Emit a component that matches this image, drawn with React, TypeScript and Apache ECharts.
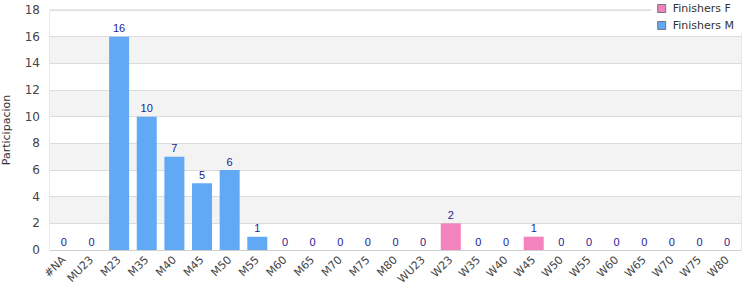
import React, { useEffect, useRef } from "react";
import * as echarts from "echarts";

const categories = ["#NA", "MU23", "M23", "M35", "M40", "M45", "M50", "M55", "M60", "M65", "M70", "M75", "M80", "WU23", "W23", "W35", "W40", "W45", "W50", "W55", "W60", "W65", "W70", "W75", "W80"];
const finishersM: (number | null)[] = [0, 0, 16, 10, 7, 5, 6, 1, 0, 0, 0, 0, 0, null, null, null, null, null, null, null, null, null, null, null, null];
const finishersF: (number | null)[] = [null, null, null, null, null, null, null, null, null, null, null, null, null, 0, 2, 0, 0, 1, 0, 0, 0, 0, 0, 0, 0];
const yTicks = { min: 0, max: 18, interval: 2 };

export default function App() {
  const ref = useRef<HTMLDivElement>(null);
  useEffect(() => {
    if (!ref.current) return;
    const chart = echarts.init(ref.current, null, { renderer: "svg" });
    const label = {
      show: true,
      position: "top" as const,
      distance: 3,
      color: "#1c1c94",
      fontSize: 11,
      fontFamily: "Liberation Sans, Arial, sans-serif",
    };
    chart.setOption({
      animation: false,
      backgroundColor: "#fff",
      grid: { left: 50, right: 9, top: 10, bottom: 50, show: true, borderColor: "#d0d0d0", borderWidth: 1, containLabel: false, outerBoundsMode: "none" },
      legend: {
        data: ["Finishers F", "Finishers M"],
        orient: "vertical",
        right: 8,
        top: 1,
        itemWidth: 8,
        itemHeight: 8,
        itemGap: 6,
        padding: [2, 8, 2, 6],
        backgroundColor: "#fff",
        icon: "rect",
        textStyle: { fontSize: 11, color: "#333", fontFamily: "DejaVu Sans, sans-serif", padding: [0, 0, 0, 2] },
        itemStyle: { borderColor: "#777", borderWidth: 1 },
      },
      xAxis: {
        type: "category",
        data: categories,
        axisLine: { show: true, lineStyle: { color: "#d0d0d0" } },
        axisTick: { show: false },
        axisLabel: { interval: 0, rotate: 45, fontSize: 11, color: "#444", fontFamily: "DejaVu Sans, sans-serif", margin: 8 },
      },
      yAxis: {
        type: "value",
        min: yTicks.min,
        max: yTicks.max,
        interval: yTicks.interval,
        name: "Participacion",
        nameLocation: "middle",
        nameGap: 38,
        nameTextStyle: { fontSize: 11, color: "#333", fontFamily: "DejaVu Sans, sans-serif" },
        axisLine: { show: false },
        axisTick: { show: false },
        axisLabel: { fontSize: 12, color: "#444", fontFamily: "DejaVu Sans, sans-serif", margin: 10 },
        splitLine: { show: true, lineStyle: { color: "#dcdcdc" } },
        splitArea: { show: true, areaStyle: { color: ["#ffffff", "#f3f3f3"] } },
      },
      series: [
        {
          name: "Finishers F",
          type: "bar",
          stack: "total",
          data: finishersF,
          barWidth: 20,
          itemStyle: { color: "#f283bd" },
          label,
        },
        {
          name: "Finishers M",
          type: "bar",
          stack: "total",
          data: finishersM,
          barWidth: 20,
          itemStyle: { color: "#62a9f5" },
          label,
        },
      ],
    });
    return () => chart.dispose();
  }, []);
  return <div ref={ref} style={{ width: 750, height: 300, position: "absolute", left: 0, top: 0 }} />;
}
